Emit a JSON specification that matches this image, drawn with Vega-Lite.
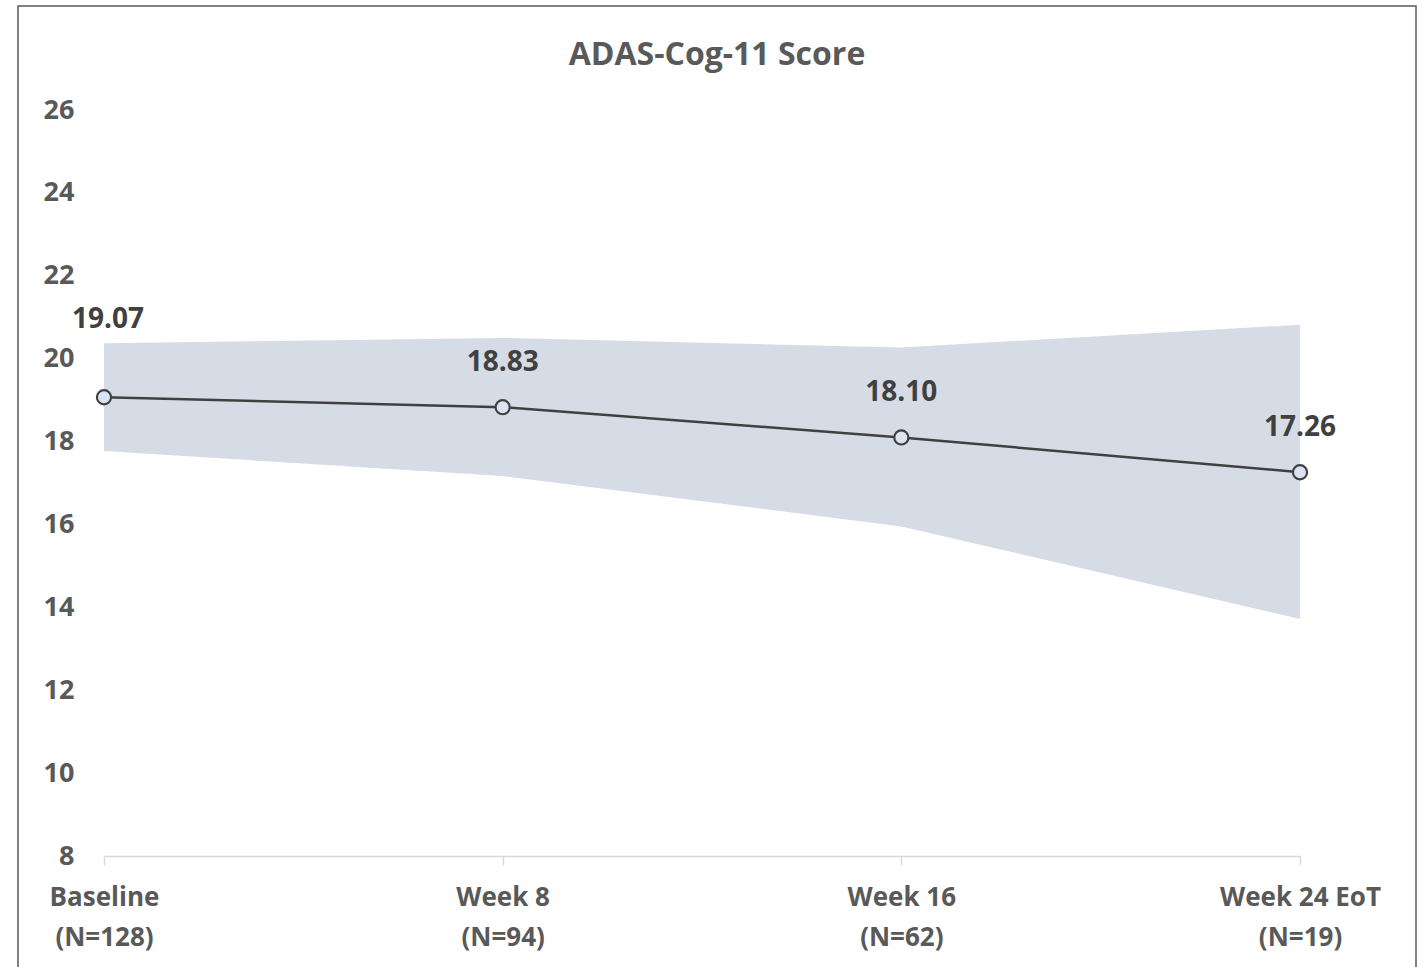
{
  "$schema": "https://vega.github.io/schema/vega-lite/v6.json",
  "autosize": "none",
  "width": 1398,
  "height": 963,
  "padding": {"left": 18, "top": 6, "right": 11, "bottom": -2},
  "background": "white",
  "config": {
    "view": {"stroke": "#595959", "strokeWidth": 1.5},
    "font": "Open Sans"
  },
  "title": {
    "text": "ADAS-Cog-11 Score",
    "font": "Open Sans",
    "fontSize": 32,
    "fontWeight": "bold",
    "color": "#595959",
    "anchor": "middle",
    "offset": -66
  },
  "data": {
    "values": [
      {"visit": "Baseline|(N=128)", "mean": 19.07, "lower": 17.77, "upper": 20.37},
      {"visit": "Week 8|(N=94)", "mean": 18.83, "lower": 17.17, "upper": 20.5},
      {"visit": "Week 16|(N=62)", "mean": 18.10, "lower": 15.95, "upper": 20.27},
      {"visit": "Week 24 EoT|(N=19)", "mean": 17.26, "lower": 13.72, "upper": 20.82}
    ]
  },
  "encoding": {
    "x": {
      "field": "visit",
      "type": "ordinal",
      "sort": null,
      "scale": {"type": "point", "range": [86, 1282], "padding": 0},
      "axis": {
        "title": null,
        "orient": "bottom",
        "offset": -113,
        "labelAngle": 0,
        "labelExpr": "split(datum.label, '|')",
        "labelFont": "Open Sans",
        "labelFontSize": 26,
        "labelFontWeight": "bold",
        "labelColor": "#595959",
        "labelLineHeight": 40,
        "labelPadding": 19,
        "domainColor": "#d9d9d9",
        "domainWidth": 1.5,
        "tickColor": "#d9d9d9",
        "tickWidth": 1.5,
        "tickSize": 9,
        "grid": false
      }
    }
  },
  "layer": [
    {
      "mark": {"type": "area", "color": "#d6dce5", "opacity": 1},
      "encoding": {
        "y": {
          "field": "lower",
          "type": "quantitative",
          "scale": {"domain": [8, 26], "range": [850, 104], "nice": false, "zero": false},
          "axis": {
            "title": null,
            "orient": "left",
            "values": [8, 10, 12, 14, 16, 18, 20, 22, 24, 26],
            "offset": -56,
            "domain": false,
            "ticks": false,
            "tickSize": 0,
            "labelPadding": 0,
            "grid": false,
            "labelFont": "Open Sans",
            "labelFontSize": 27,
            "labelFontWeight": "bold",
            "labelColor": "#595959"
          }
        },
        "y2": {"field": "upper"}
      }
    },
    {
      "mark": {"type": "line", "color": "#404040", "strokeWidth": 2.5},
      "encoding": {"y": {"field": "mean", "type": "quantitative"}}
    },
    {
      "mark": {"type": "point", "filled": true, "fill": "#dae3f3", "stroke": "#404040", "strokeWidth": 2.2, "size": 200, "opacity": 1},
      "encoding": {"y": {"field": "mean", "type": "quantitative"}}
    },
    {
      "transform": [{"filter": "datum.visit == 'Baseline|(N=128)'"}],
      "mark": {"type": "text", "font": "Open Sans", "fontSize": 28, "fontWeight": "bold", "color": "#404040", "dy": -77, "dx": 4},
      "encoding": {
        "y": {"field": "mean", "type": "quantitative"},
        "text": {"field": "mean", "type": "quantitative", "format": ".2f"}
      }
    },
    {
      "transform": [{"filter": "datum.visit != 'Baseline|(N=128)'"}],
      "mark": {"type": "text", "font": "Open Sans", "fontSize": 28, "fontWeight": "bold", "color": "#404040", "dy": -44},
      "encoding": {
        "y": {"field": "mean", "type": "quantitative"},
        "text": {"field": "mean", "type": "quantitative", "format": ".2f"}
      }
    }
  ]
}
